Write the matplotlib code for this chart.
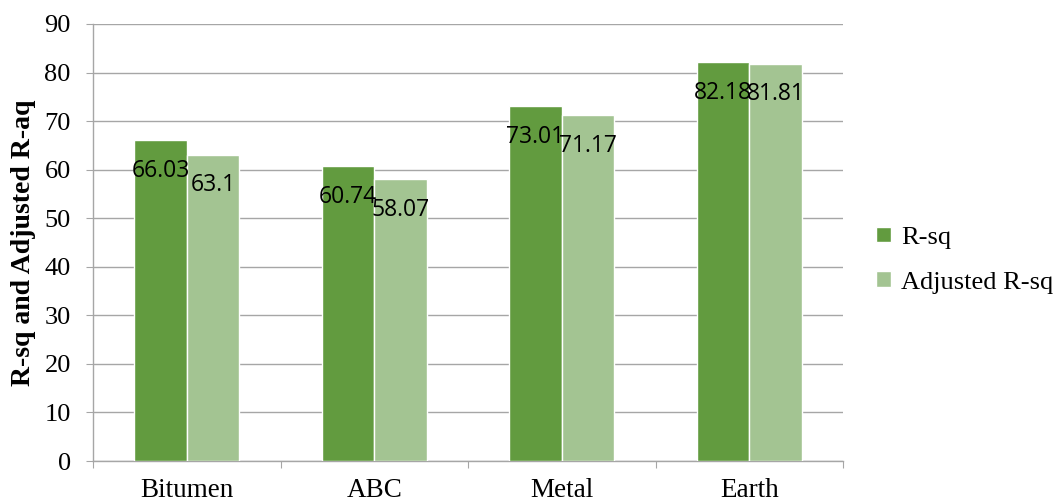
import matplotlib
matplotlib.use("Agg")
import matplotlib.pyplot as plt
import numpy as np

categories = ["Bitumen", "ABC", "Metal", "Earth"]
r_sq = [66.03, 60.74, 73.01, 82.18]
adj_r_sq = [63.1, 58.07, 71.17, 81.81]
series_names = ["R-sq", "Adjusted R-sq"]
yticks = list(range(0, 91, 10))

dark = "#629B3F"
light = "#A3C492"
grid = "#A6A6A6"

fig = plt.figure(figsize=(10.64, 5.03), dpi=100)
ax = fig.add_axes([93/1064, 1-461/503, (843-93)/1064, (461-24)/503])

x = np.arange(len(categories))
w = 0.28
b1 = ax.bar(x - w/2, r_sq, w, color=dark, edgecolor="white", linewidth=1, label=series_names[0], zorder=3)
b2 = ax.bar(x + w/2, adj_r_sq, w, color=light, edgecolor="white", linewidth=1, label=series_names[1], zorder=3)

for bars, vals in ((b1, r_sq), (b2, adj_r_sq)):
    for rect, v in zip(bars, vals):
        ax.annotate(f"{v:g}", (rect.get_x() + rect.get_width()/2, v),
                    xytext=(0, -22), textcoords="offset points",
                    ha="center", va="center", fontsize=16.5,
                    family="Open Sans", color="black", zorder=5)

ax.set_xlim(-0.5, len(categories) - 0.5)
ax.set_ylim(0, 90)
ax.set_yticks(yticks)
ax.set_yticklabels([str(t) for t in yticks], family="Liberation Serif", fontsize=19)
ax.yaxis.grid(True, color=grid, linewidth=1, zorder=0)
ax.set_axisbelow(True)

ax.set_xticks(np.arange(-0.5, len(categories), 1.0), minor=False)
ax.set_xticklabels([])
ax.set_xticks(x, minor=True)
ax.set_xticklabels(categories, minor=True, family="Liberation Serif", fontsize=19.5)
ax.tick_params(axis="x", which="minor", length=0, pad=12)
ax.tick_params(axis="x", which="major", length=5, color=grid, direction="out")
ax.tick_params(axis="y", length=5, color=grid, direction="out", pad=11)

for s in ["top", "right"]:
    ax.spines[s].set_visible(False)
for s in ["left", "bottom"]:
    ax.spines[s].set_color(grid)
    ax.spines[s].set_linewidth(1)

ax.set_ylabel("R-sq and Adjusted R-aq", family="Liberation Serif", fontsize=20, fontweight="bold", labelpad=6)

leg = fig.legend(handles=[b1, b2], labels=series_names, loc="center left",
                 bbox_to_anchor=(876/1064, 1-260/503), frameon=False,
                 prop={"family": "Liberation Serif", "size": 19},
                 handlelength=0.55, handleheight=0.55, handletextpad=0.4, labelspacing=0.85,
                 borderpad=0, borderaxespad=0)

fig.savefig("out.png", dpi=100)
